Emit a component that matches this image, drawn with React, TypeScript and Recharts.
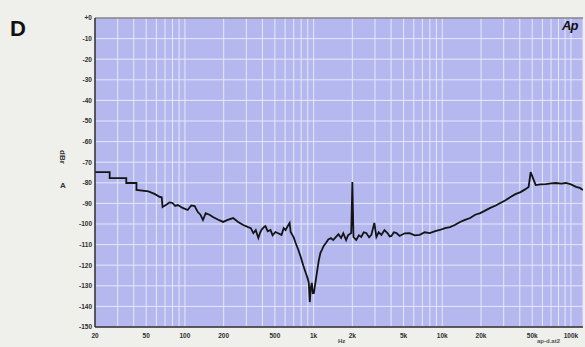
import React from 'react';
import { LineChart, Line, XAxis, YAxis, CartesianGrid, ReferenceLine } from 'recharts';

const freqs: number[] = [
  20, 26, 26, 35, 35, 42, 42, 52, 58, 64, 66, 67, 72, 76, 80, 84, 88, 96, 105, 112,
  119, 126, 132, 138, 145, 155, 165, 180, 198, 215, 237, 259, 284, 310, 325, 340, 355, 372, 385, 393,
  410, 422, 440, 462, 480, 505, 530, 563, 585, 605, 630, 651, 663, 700, 725, 760, 794, 830, 869, 900,
  917, 934, 950, 968, 985, 1004, 1040, 1070, 1098, 1130, 1160, 1200, 1246, 1300, 1364, 1420, 1493, 1560, 1634, 1700,
  1788, 1850, 1960, 2000, 2040, 2142, 2250, 2344, 2450, 2566, 2700, 2808, 2964, 3073, 3200, 3363, 3550, 3747, 3900, 4027,
  4200, 4408, 4654, 5100, 5573, 6100, 6674, 7300, 7993, 8800, 9577, 10500, 11470, 12500, 13740, 15000, 16460, 18000, 19710, 21500,
  23610, 26000, 28280, 31000, 33870, 37000, 40570, 44000, 46860, 48600, 51290, 53190, 58000, 63700, 70000, 76280, 84000, 91380, 100000, 109400,
  117000, 124000,
];

const levels: number[] = [
  -74.8, -74.8, -77.7, -77.7, -80.1, -80.1, -83.5, -84.2, -85.4, -86.9, -87.0, -91.7, -90.5, -89.5, -89.8, -91.2, -90.8, -92.2, -93.2, -91.0,
  -91.3, -94.2, -95.5, -98.1, -94.7, -95.5, -96.6, -97.8, -99.0, -98.0, -97.1, -99.0, -100.5, -101.5, -102.0, -104.4, -103.0, -106.8, -104.0, -102.9,
  -101.5, -101.0, -103.5, -102.9, -105.5, -103.9, -104.5, -105.3, -102.0, -102.9, -101.0, -99.5, -103.9, -106.5, -109.2, -112.5, -116.0, -120.0, -123.8, -126.5,
  -128.6, -137.9, -131.0, -128.6, -133.5, -133.5, -127.2, -122.0, -117.5, -114.0, -112.6, -110.5, -109.2, -107.5, -106.8, -107.8, -106.3, -105.0, -106.8, -104.5,
  -107.8, -105.5, -104.4, -79.6, -106.3, -107.8, -105.5, -106.3, -104.0, -104.4, -106.5, -105.3, -99.5, -106.3, -104.0, -105.3, -103.0, -104.4, -106.0, -105.8,
  -104.0, -104.4, -105.8, -104.5, -104.4, -105.5, -105.3, -104.0, -104.4, -103.5, -102.9, -102.0, -101.5, -100.5, -99.0, -98.0, -97.1, -95.5, -94.7, -93.5,
  -92.2, -91.0, -89.8, -88.5, -86.9, -85.5, -84.5, -83.2, -82.0, -74.8, -78.6, -81.1, -80.8, -80.6, -80.3, -80.1, -80.4, -80.1, -80.8, -82.0,
  -82.5, -83.5,
];

const xGridValues: number[] = [
  20, 30, 40, 50, 60, 70, 80, 90, 100, 200, 300, 400, 500, 600, 700, 800, 900,
  1000, 2000, 3000, 4000, 5000, 6000, 7000, 8000, 9000, 10000, 20000, 30000, 40000,
  50000, 60000, 70000, 80000, 90000, 100000,
];

const xTickLabels: Record<number, string> = {
  20: '20', 50: '50', 100: '100', 200: '200', 500: '500', 1000: '1k', 2000: '2k',
  5000: '5k', 10000: '10k', 20000: '20k', 50000: '50k', 100000: '100k',
};

const yTicks: number[] = [0, -10, -20, -30, -40, -50, -60, -70, -80, -90, -100, -110, -120, -130, -140, -150];

const data = freqs.map((f, i) => ({ f, db: levels[i] }));

const tickStyle = { fontSize: 6.5, fontWeight: 700, fill: '#2e2e2e', fontFamily: 'Liberation Sans, Arial, sans-serif' };

export default function App() {
  return (
    <div style={{ position: 'relative', width: 585, height: 347, background: '#efefec', fontFamily: 'Liberation Sans, Arial, sans-serif', overflow: 'hidden' }}>
      <style>{`body{margin:0}`}</style>
      <LineChart width={585} height={347} data={data} margin={{ top: 18, right: 2, bottom: 0, left: 0 }}>
        <CartesianGrid fill="#b4b8ee" stroke="#e6e8fb" strokeWidth={1} />
        <XAxis
          dataKey="f"
          type="number"
          scale="log"
          domain={[20, 124000]}
          ticks={xGridValues}
          interval={0}
          allowDataOverflow
          height={20}
          tickSize={0}
          tickMargin={6}
          tick={tickStyle}
          tickFormatter={(v: number) => xTickLabels[v] ?? ''}
          axisLine={{ stroke: '#2a2a2a', strokeWidth: 1.5 }}
        />
        <YAxis
          dataKey="db"
          type="number"
          domain={[-150, 0]}
          ticks={yTicks}
          interval={0}
          width={95}
          tickSize={0}
          tickMargin={3}
          tick={tickStyle}
          tickFormatter={(v: number) => (v === 0 ? '+0' : String(v))}
          axisLine={{ stroke: '#2a2a2a', strokeWidth: 1.5 }}
        />
        <ReferenceLine y={0} stroke="#555" strokeWidth={1.2} />
        <Line
          type="linear"
          dataKey="db"
          stroke="#141414"
          strokeWidth={1.8}
          dot={false}
          isAnimationActive={false}
        />
      </LineChart>
      <div style={{ position: 'absolute', left: 10, top: 16, fontSize: 22, fontWeight: 700, color: '#111' }}>D</div>
      <div style={{ position: 'absolute', left: 562, top: 18, fontSize: 13, fontWeight: 700, fontStyle: 'italic', color: '#111', letterSpacing: -1 }}>Ap</div>
      <div style={{ position: 'absolute', left: 57, top: 150, width: 12, fontSize: 8, fontWeight: 700, color: '#333' }}>
        <div style={{ transform: 'rotate(90deg)', transformOrigin: 'left top', position: 'absolute', left: 10, top: 0, whiteSpace: 'nowrap' }}>dBr</div>
        <div style={{ position: 'absolute', left: 3, top: 31 }}>A</div>
      </div>
      <div style={{ position: 'absolute', left: 338, top: 338, fontSize: 6, fontWeight: 700, color: '#444' }}>Hz</div>
      <div style={{ position: 'absolute', left: 537, top: 338, fontSize: 6, fontWeight: 700, color: '#555' }}>ap-d.at2</div>
    </div>
  );
}
